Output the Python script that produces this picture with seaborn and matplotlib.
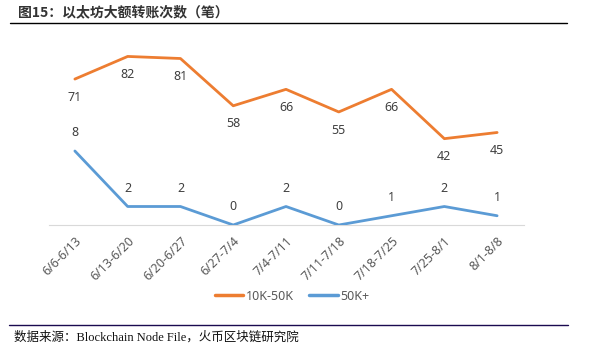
import matplotlib
matplotlib.use("Agg")
import matplotlib.pyplot as plt
import seaborn as sns
import pandas as pd
from matplotlib.lines import Line2D

categories = ["6/6-6/13", "6/13-6/20", "6/20-6/27", "6/27-7/4", "7/4-7/11",
              "7/11-7/18", "7/18-7/25", "7/25-8/1", "8/1-8/8"]
mid_values = [71, 82, 81, 58, 66, 55, 66, 42, 45]
big_values = [8, 2, 2, 0, 2, 0, 1, 2, 1]
series_names = ["10K-50K", "50K+"]
title = "图15：以太坊大额转账次数（笔）"
source = "数据来源：Blockchain Node File，火币区块链研究院"

sns.set_theme(style="white")
plt.rcParams['font.family'] = ['Noto Sans CJK SC', 'DejaVu Sans']

ORANGE = "#ED7D31"
BLUE = "#5B9BD5"

df = pd.DataFrame({"x": list(range(len(categories))), "mid": mid_values, "big": big_values})

fig = plt.figure(figsize=(5.97, 3.51), dpi=100)
ax = fig.add_axes([48.5/597, 1-225/351, (523.5-48.5)/597, (225-40)/351])
ax2 = ax.twinx()

sns.lineplot(data=df, x="x", y="mid", ax=ax, color=ORANGE, linewidth=2.0, legend=False)
sns.lineplot(data=df, x="x", y="big", ax=ax2, color=BLUE, linewidth=2.0, legend=False)

ax.set_xlim(-0.5, len(categories)-0.5)
ax.set_ylim(0, 90)
ax2.set_ylim(0, 20)
for a in (ax, ax2):
    a.set_ylabel("")
    a.set_xlabel("")
    a.set_yticks([])
    for s in a.spines.values():
        s.set_visible(False)
ax.spines['bottom'].set_visible(True)
ax.spines['bottom'].set_color("#d9d9d9")
ax.spines['bottom'].set_linewidth(0.8)
ax.patch.set_alpha(0)

ax.set_xticks(range(len(categories)))
ax.set_xticklabels(categories, rotation=45, ha="right", va="top",
                   rotation_mode="anchor", fontsize=9, color="#595959",
                   family=['Noto Sans', 'DejaVu Sans'])
ax.tick_params(axis='x', length=0, pad=7)

for i, v in enumerate(mid_values):
    ax.annotate(str(v), (i, v), xytext=(0, -13), textcoords="offset points",
                ha="center", va="center", fontsize=9, color="#404040",
                family=['Noto Sans', 'DejaVu Sans'])
for i, v in enumerate(big_values):
    ax2.annotate(str(v), (i, v), xytext=(0, 13), textcoords="offset points",
                 ha="center", va="center", fontsize=9, color="#404040",
                 family=['Noto Sans', 'DejaVu Sans'])

handles = [Line2D([0], [0], color=ORANGE, lw=2.5), Line2D([0], [0], color=BLUE, lw=2.5)]
fig.legend(handles, series_names, loc="center", bbox_to_anchor=(292/597, 1-296/351),
           ncol=2, frameon=False, handlelength=2.3, handletextpad=0.2,
           columnspacing=1.2, labelcolor="#595959",
           prop={'family': ['Noto Sans', 'DejaVu Sans'], 'size': 9})

# title and rules
fig.text(18/597, 1-12/351, title, ha="left", va="center", fontsize=10,
         fontweight="bold", color="#333333")
fig.add_artist(Line2D([10/597, 567/597], [1-23/351, 1-23/351], color="black", lw=1.0))
fig.add_artist(Line2D([9/597, 568/597], [1-325/351, 1-325/351], color="#1a0a50", lw=1.0))
fig.text(14/597, 1-337/351, source, ha="left", va="center", fontsize=9,
         color="#111111", family=['Liberation Serif', 'Noto Sans CJK SC'])

fig.savefig("out.png", dpi=100)
